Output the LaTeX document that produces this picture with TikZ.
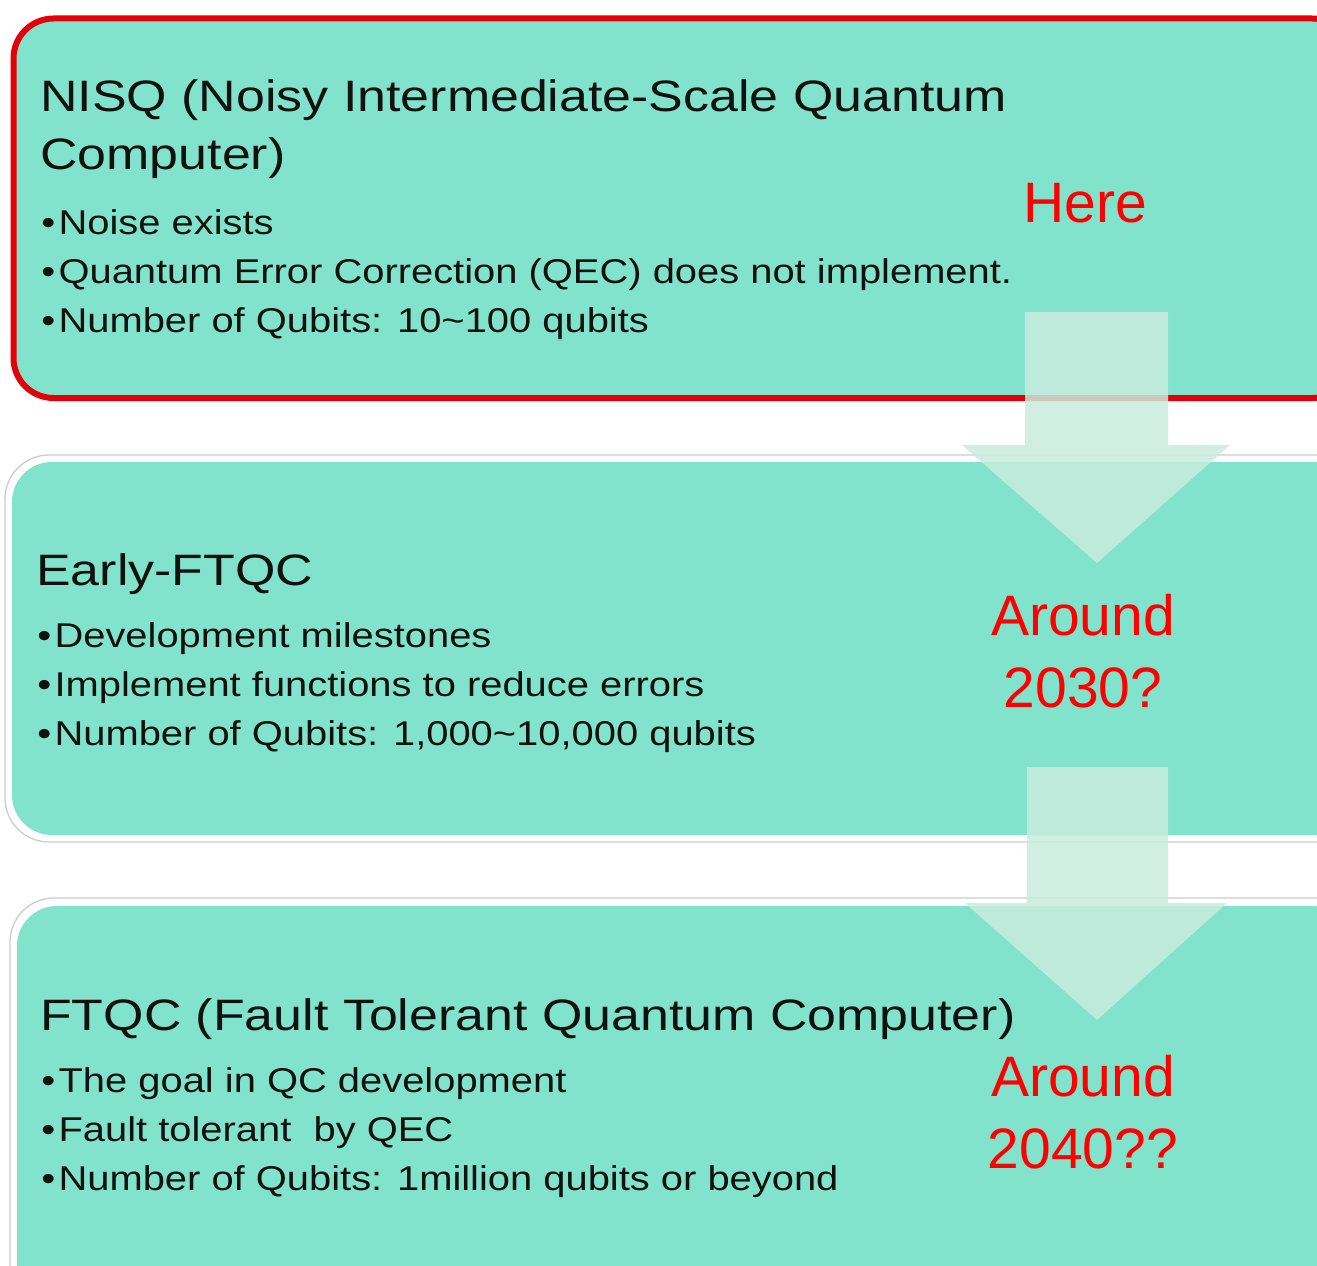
\documentclass[tikz,border=0pt]{standalone}
\usepackage{fontspec}
\setmainfont{Liberation Sans}
\newfontfamily\widesans[FakeStretch=1.18]{Liberation Sans}
\newfontfamily\listsans[FakeStretch=1.16]{Liberation Sans}
\definecolor{boxfill}{HTML}{81E3CC}
\definecolor{framered}{HTML}{E4000B}
\definecolor{edgegray}{HTML}{CDCDCD}
\definecolor{arrowfill}{HTML}{C8ECDE}
\definecolor{ink}{HTML}{111111}
\definecolor{notered}{HTML}{FF0000}
\newcommand{\pt}{•\kern2.5pt}
\begin{document}
\begin{tikzpicture}[x=0.75pt,y=-0.75pt,
  panel/.style={fill=boxfill, rounded corners=30pt},
  rim/.style={draw=edgegray, line width=1pt, fill=white, rounded corners=33pt},
  blockarrow/.style={fill=arrowfill, fill opacity=0.85},
  heading/.style={font=\widesans\fontsize{33}{43.5}\selectfont, text=ink,
    align=left, inner sep=0pt, anchor=base west},
  points/.style={font=\listsans\fontsize{25.8}{36.4}\selectfont, text=ink,
    align=left, inner sep=0pt, anchor=base west},
  remark/.style={font=\fontsize{42.75}{53.5}\selectfont, text=notered,
    align=center, inner sep=0pt, anchor=base}]
\useasboundingbox (0,0) rectangle (1317,1266);
\clip (0,0) rectangle (1317,1266);
\fill[white] (0,0) rectangle (1317,1266);

% NISQ panel with red frame
\draw[panel, draw=framered, line width=4.5pt] (13.5,18.5) rectangle (1352,398);

% Early-FTQC panel
\draw[rim] (5,455) rectangle (1360,842);
\fill[panel] (12,462) rectangle (1352,835);

% FTQC panel
\draw[rim] (10,898) rectangle (1360,1320);
\fill[panel] (17,906) rectangle (1352,1320);

% block arrows between the stages
\coordinate (a1) at (1097,312);
\coordinate (a2) at (1097,767);
\fill[blockarrow] (a1) ++(-72,0) -- ++(143,0) -- ++(0,133) -- ++(62,0)
  -- (1097,563) -- (962,445) -- (1025,445) -- cycle;
\fill[blockarrow] (a2) ++(-70,0) -- ++(141,0) -- ++(0,136) -- ++(59,0)
  -- (1097,1020) -- (965,903) -- (1027,903) -- cycle;

% stage texts (multi-line nodes sit on the baseline of their last line)
\node[heading] (nisq) at (40,170) {NISQ (Noisy Intermediate-Scale Quantum\\Computer)};
\node[points] (nisqpts) at (41,332)
  {\pt Noise exists\\
   \pt Quantum Error Correction (QEC) does not implement.\\
   \pt Number of Qubits: 10\textasciitilde100 qubits};

\node[heading] (early) at (36,585) {Early-FTQC};
\node[points] (earlypts) at (37,745)
  {\pt Development milestones\\
   \pt Implement functions to reduce errors\\
   \pt Number of Qubits: 1,000\textasciitilde10,000 qubits};

\node[heading] (ftqc) at (40,1030) {FTQC (Fault Tolerant Quantum Computer)};
\node[points] (ftqcpts) at (41,1190)
  {\pt The goal in QC development\\
   \pt Fault tolerant\ \ by QEC\\
   \pt Number of Qubits: 1million qubits or beyond};

% time estimates
\node[remark] (here) at (1085,223) {Here};
\node[remark] (y2030) at (1083,707) {Around\\2030?};
\node[remark] (y2040) at (1083,1168) {Around\\2040??};
\end{tikzpicture}
\end{document}
